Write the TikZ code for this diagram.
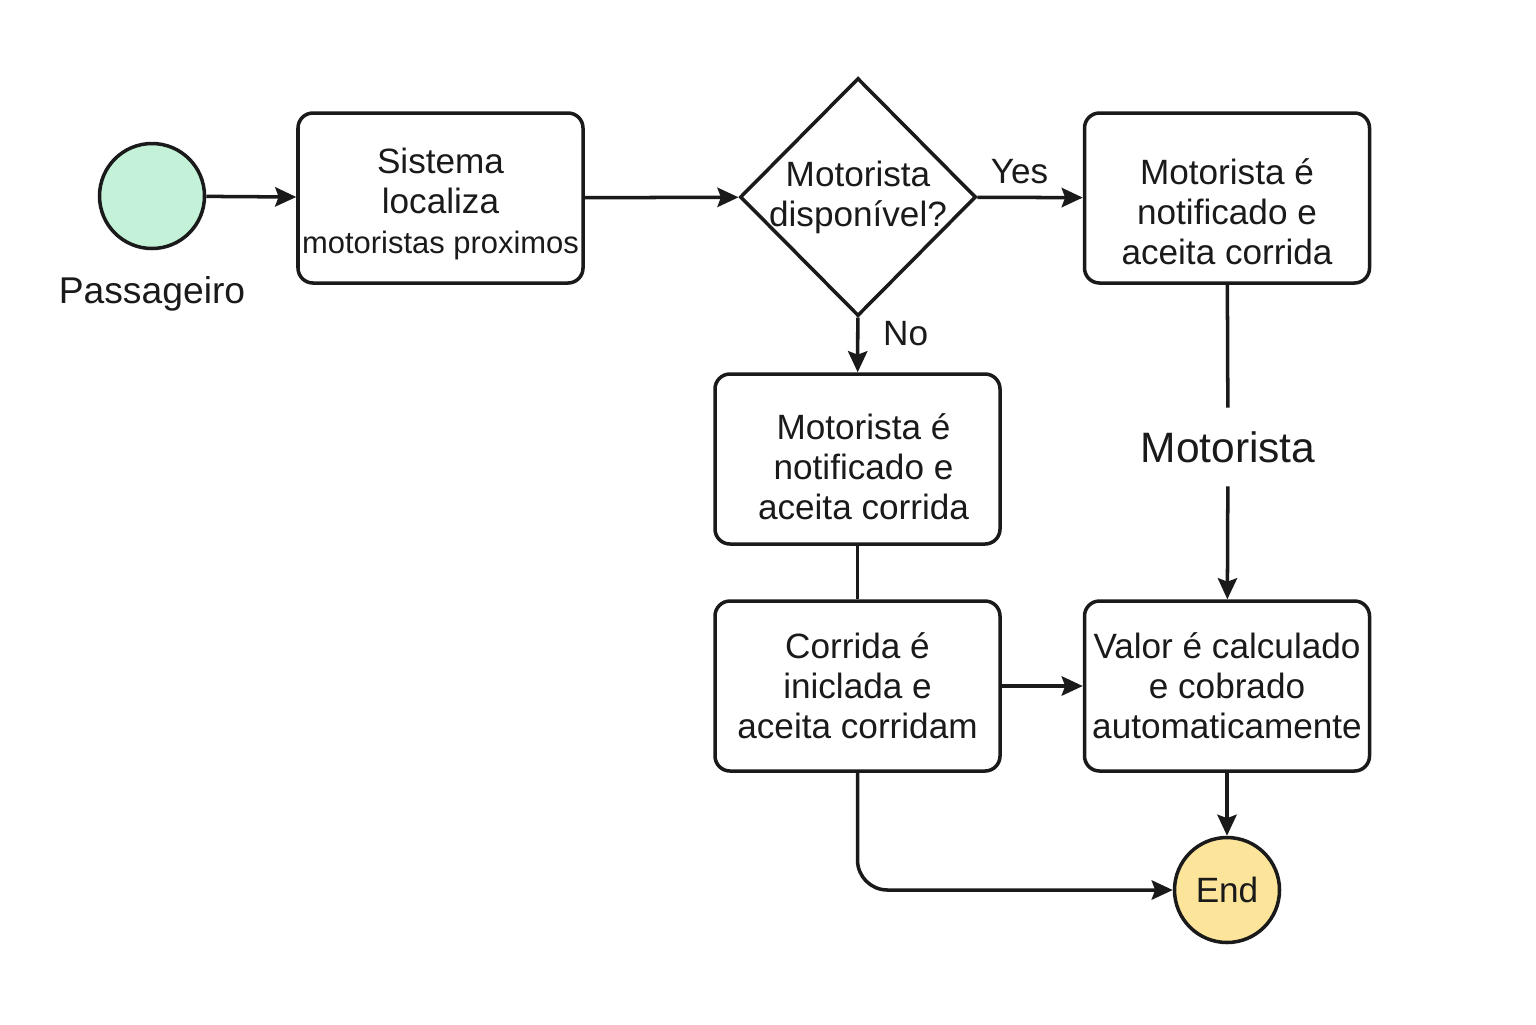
\documentclass[tikz,border=0pt]{standalone}
\usepackage{fontspec}
\setmainfont{Liberation Sans}
\usetikzlibrary{
  arrows.meta,
  positioning,
  shapes.geometric
}

\definecolor{startgreen}{HTML}{C3F2D8}
\definecolor{endyellow}{HTML}{FCE59A}
\definecolor{ink}{HTML}{1A1A1A}

\begin{document}
\begin{tikzpicture}[>={Stealth[length=6pt,width=5.5pt,inset=1pt]},
  line width=1pt, draw=ink,
  every node/.style={font=\fontsize{10}{11.4}\selectfont, text=ink},
  box/.style={draw=ink, rounded corners=0.15cm, minimum width=2.85cm,
    minimum height=1.7cm, align=center, inner sep=1pt},
  event/.style={draw=ink, circle, minimum size=1.05cm, inner sep=0pt}]
  \useasboundingbox (0,0) rectangle (15.36,-10.24);

  \node [event, fill=startgreen] (start) at (1.52,-1.96) {};
  \node [below=0.13cm of start, font=\fontsize{10.6}{12}\selectfont] (passenger) {Passageiro};
  \node [box, label={[align=center, yshift=-0.06cm]center:Sistema \\ localiza \\
    {\fontsize{8.8}{11.4}\selectfont motoristas proximos}}] (locate) at (4.405,-1.98) {};
  \node [draw=ink, diamond, minimum width=2.36cm, minimum height=2.38cm, inner sep=0pt,
    label={[align=center]center:Motorista \\ disponível?}] (available) at (8.58,-1.97) {};
  \node [box, label={[align=center, yshift=-0.14cm]center:Motorista é \\ notificado e \\
    aceita corrida}] (notifyyes) at (12.27,-1.98) {};
  \node [box, label={[align=center, xshift=0.06cm, yshift=-0.08cm]center:Motorista é \\
    notificado e \\ aceita corrida}] (notifyno) at (8.575,-4.59) {};
  \node [box] (ride) at (8.575,-6.86) {Corrida é \\ iniclada e \\ aceita corridam};
  \node [box] (charge) at (12.27,-6.86) {Valor é calculado \\ e cobrado \\ automaticamente};
  \node [font=\fontsize{12.1}{14}\selectfont, inner sep=0.22cm] (driver) at (12.28,-4.47) {Motorista};
  \node [event, fill=endyellow] (end) at (12.27,-8.90) {End};

  \draw [->] (start) -- (locate);
  \draw [->] (locate) -- (available);
  \draw [->] (available) -- node [above, pos=0.4] {Yes} (notifyyes);
  \draw [->] (available) -- node [right, pos=0.3, xshift=0.12cm] {No} (notifyno);
  \draw (notifyyes) -- (driver);
  \draw [->] (driver) -- (charge);
  \draw (notifyno) -- (ride);
  \draw [->] (ride) -- (charge);
  \draw [->] (charge) -- (end);
  \draw [->, rounded corners=0.3cm] (ride.south) |- (end.west);
\end{tikzpicture}
\end{document}
